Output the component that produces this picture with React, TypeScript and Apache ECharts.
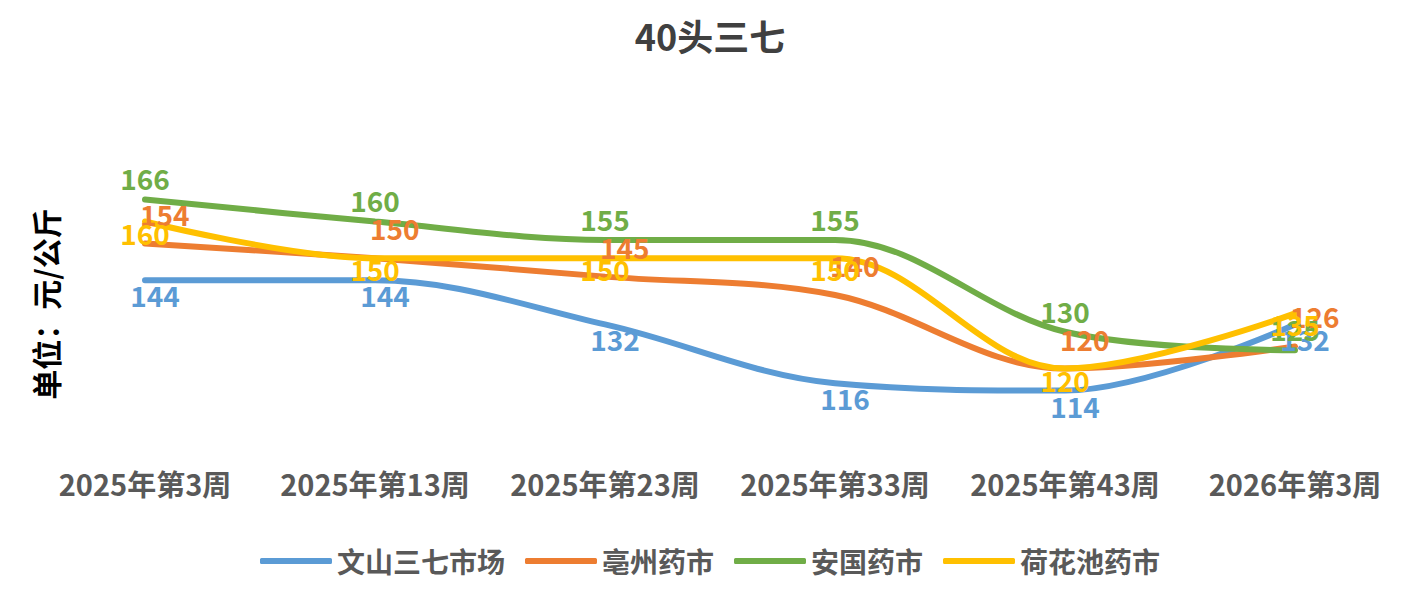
import React from "react";
import * as echarts from "echarts";

const categories = ["2025年第3周", "2025年第13周", "2025年第23周", "2025年第33周", "2025年第43周", "2026年第3周"];
const wenshan = [144, 144, 132, 116, 114, 132];
const bozhou = [154, 150, 145, 140, 120, 126];
const anguo = [166, 160, 155, 155, 130, 125];
const hehuachi = [160, 150, 150, 150, 120, 135];

const FONT = "'Noto Sans CJK SC', 'Noto Sans', sans-serif";

const App: React.FC = () => {
    const chartRef = React.useRef<HTMLDivElement>(null);

    React.useEffect(() => {
        if (!chartRef.current) return;
        const chart = echarts.init(chartRef.current, undefined, { renderer: "svg" });

        const mk = (name: string, data: number[], color: string, pos: string, offset: number[]) => ({
            name,
            type: "line",
            smooth: 0.35,
            data,
            symbol: "circle",
            symbolSize: 0.1,
            showSymbol: true,
            lineStyle: { color, width: 6, cap: "round" },
            itemStyle: { color },
            label: {
                show: true,
                position: pos,
                offset,
                color,
                fontSize: 28,
                fontWeight: "bold",
                fontFamily: FONT,
            },
        });

        chart.setOption({
            animation: false,
            title: {
                text: "40头三七",
                left: "center",
                top: 4,
                textStyle: { fontSize: 36, fontWeight: "bold", color: "#404040", fontFamily: FONT },
            },
            grid: { left: 22, right: 2, top: 140, bottom: 140 },
            xAxis: {
                type: "category",
                data: categories,
                boundaryGap: true,
                axisLine: { show: false },
                axisTick: { show: false },
                axisLabel: { color: "#595959", fontSize: 29, fontWeight: "bold", fontFamily: FONT, margin: 26, interval: 0 },
            },
            yAxis: { type: "value", min: 100, max: 180, show: false, splitLine: { show: false } },
            legend: {
                bottom: 2,
                left: "center",
                itemWidth: 72,
                itemHeight: 6,
                itemGap: 20,
                icon: "roundRect",
                textStyle: { fontSize: 28, fontWeight: "bold", color: "#595959", fontFamily: FONT },
                data: ["文山三七市场", "亳州药市", "安国药市", "荷花池药市"],
            },
            graphic: [
                {
                    type: "text",
                    x: 22,
                    y: 296,
                    rotation: Math.PI / 2,
                    style: {
                        text: "单位：元/公斤",
                        font: `bold 30px ${FONT}`,
                        fill: "#000",
                        align: "center",
                        verticalAlign: "top",
                    },
                },
            ],
            series: [
                mk("文山三七市场", wenshan, "#5b9bd5", "bottom", [10, -4]),
                mk("亳州药市", bozhou, "#ed7d31", "right", [-10, -30]),
                mk("安国药市", anguo, "#70ad47", "top", [0, -2]),
                mk("荷花池药市", hehuachi, "#ffc000", "bottom", [0, -8]),
            ],
        } as any);

        return () => chart.dispose();
    }, []);

    return <div ref={chartRef} style={{ width: "1404px", height: "574px" }} />;
};

export default App;
